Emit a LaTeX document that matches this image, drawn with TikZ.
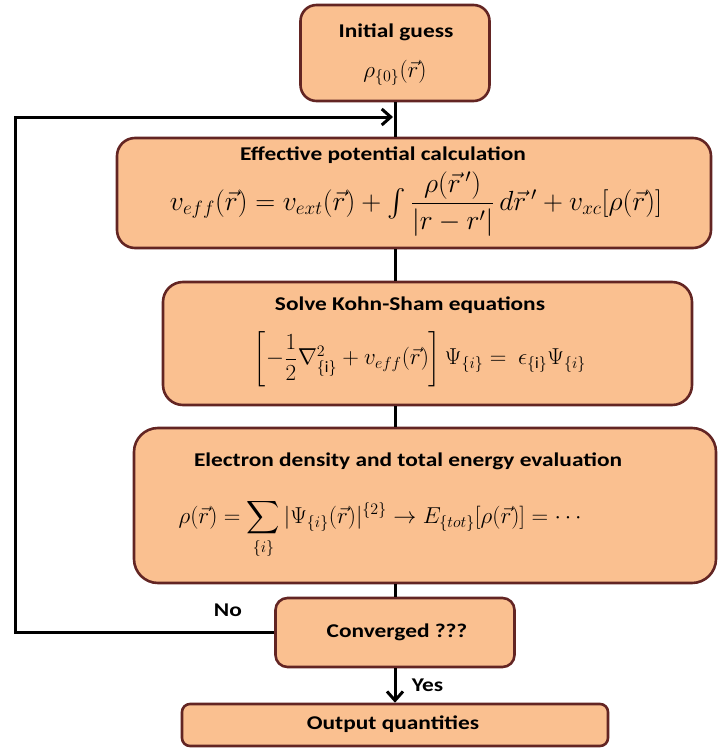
\documentclass[tikz,border=0pt]{standalone}
\usepackage{amsmath}
\usepackage{fontspec}
\setmainfont{Carlito}
\newfontfamily\boxfont[FakeStretch=1.2]{Carlito}
\usetikzlibrary{positioning, arrows.meta, calc}
\definecolor{boxfill}{HTML}{FAC090}
\definecolor{boxdraw}{HTML}{632523}
\newlength{\px}
\setlength{\px}{0.75pt}

\begin{document}
\begin{tikzpicture}[
    x=\px, y=-\px,
    stepbox/.style={draw=boxdraw, line width=2.6\px, fill=boxfill, rectangle},
    title/.style={font=\boxfont\bfseries\fontsize{14.6}{17}\selectfont, inner sep=0pt},
    eqn/.style={font=\fontsize{#1}{20}\selectfont, inner sep=0pt},
    flow/.style={line width=3\px, black},
    tip/.style={-{Straight Barb[length=6.75pt, width=12pt]}}
]
\useasboundingbox (0,0) rectangle (718,749);

% --- Kästen ---
\node[stepbox, minimum width=189\px, minimum height=96\px, rounded corners=16\px] (init) at (395,53) {};
\node[stepbox, minimum width=594\px, minimum height=110\px, rounded corners=18\px] (effpot) at (414,193) {};
\node[stepbox, minimum width=529\px, minimum height=123\px, rounded corners=20\px] (kohnsham) at (427.5,343.5) {};
\node[stepbox, minimum width=582\px, minimum height=155\px, rounded corners=24\px] (density) at (425,505.5) {};
\node[stepbox, minimum width=239\px, minimum height=69\px, rounded corners=12\px] (conv) at (395,632.5) {};
\node[stepbox, minimum width=426\px, minimum height=42\px, rounded corners=8\px] (output) at (395,725) {};

% --- Texte ---
\node[title] (inittitle) at (396,32) {Initial guess};
\node[eqn=17] (initeq) at (395,73) {$\rho_{\{0\}}(\vec{r})$};

\node[title] (efftitle) at (383,155) {Effective potential calculation};
\node[eqn=20.5] (effeq) at (416,204) {$v_{eff}(\vec{r}) = v_{ext}(\vec{r}) + \textstyle\int \dfrac{\rho(\vec{r}\,')}{|r-r'|}\,d\vec{r}\,' + v_{xc}[\rho(\vec{r})]$};

\node[title] (kstitle) at (410,305) {Solve Kohn-Sham equations};
\node[eqn=17] (kseq) at (420,359) {$\left[-\dfrac{1}{2}\nabla^{2}_{\{\mathrm{i}\}} + v_{eff}(\vec{r})\right]\Psi_{\{i\}} =\ \epsilon_{\{\mathrm{i}\}}\Psi_{\{i\}}$};

\node[title] (denstitle) at (408,461) {Electron density and total energy evaluation};
\node[eqn=17] (denseq) at (382,529) {$\rho(\vec{r}) = \displaystyle\sum_{\{i\}} |\Psi_{\{i\}}(\vec{r})|^{\{2\}} \rightarrow E_{\{tot\}}[\rho(\vec{r})] = \cdots$};

\node[title] (convtext) at (397,632) {Converged ???};
\node[title] (outtext) at (393,724) {Output quantities};

% Hilfspunkte für die Rückführung
\coordinate (back) at (15,117);
\coordinate (join) at (init.south |- back);

% --- Kanten ---
\draw[flow] (init.south) -- (init.south |- effpot.north);
\draw[flow] (init.south |- effpot.south) -- (init.south |- kohnsham.north);
\draw[flow] (init.south |- kohnsham.south) -- (init.south |- density.north);
\draw[flow] (init.south |- density.south) -- (conv.north);

\draw[flow, tip] (conv.south) -- (output.north) node[midway, right=11.5pt, title] (yes) {Yes};
\draw[flow, tip, shorten >=1.5pt] (conv.west) -| (back) -- (join);
\node[title, above left=11.4pt and 24pt of conv.west] (no) {No};

\end{tikzpicture}
\end{document}
